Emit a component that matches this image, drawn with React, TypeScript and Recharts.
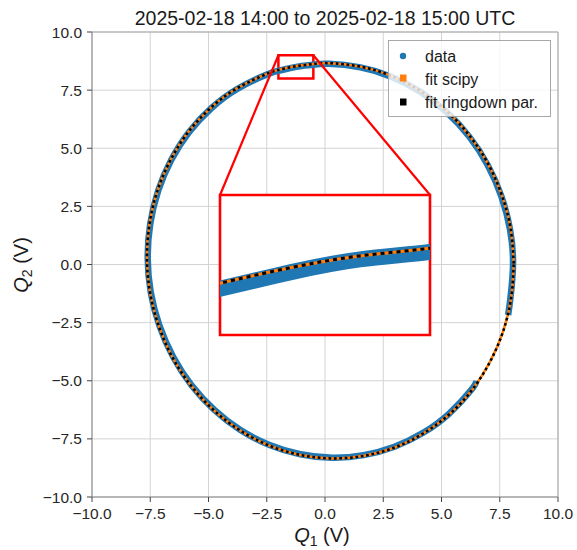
import React from 'react';
import {
  ComposedChart,
  Line,
  XAxis,
  YAxis,
  CartesianGrid,
  ReferenceArea,
  ReferenceLine,
} from 'recharts';

const TITLE = '2025-02-18 14:00 to 2025-02-18 15:00 UTC';
const FONT = '"Liberation Sans", Arial, sans-serif';

const axisTicks = [-10, -7.5, -5, -2.5, 0, 2.5, 5, 7.5, 10];

// zoomed window shown in the inset, and where the inset sits (main axes units)
const zoomQ1 = [-2.0, -0.5];
const zoomQ2 = [8.0, 9.0];
const insetQ1 = [-4.5, 4.5];
const insetQ2 = [-3.0, 3.0];
const insetTicksQ1 = [-2.0, -1.5, -1.0, -0.5];
const insetTicksQ2 = [8.0, 8.25, 8.5, 8.75, 9.0];

// measured data band (centre of the blue ring), gap in the lower right
const dataQ1 = [7.86, 7.96, 8.07, 7.94, 7.57, 6.98, 6.19, 5.21, 4.09, 2.84, 1.52, 0.16, -0.5, -1.0, -1.5, -2.0, -2.52, -3.75, -4.87, -5.83, -6.6, -7.16, -7.5, -7.61, -7.48, -7.11, -6.52, -5.73, -4.75, -3.63, -2.38, -1.06, 0.31, 1.66, 2.98, 4.21, 5.33, 6.29, 6.5];
const dataQ2 = [-2.17, -1.42, 0.04, 1.51, 2.93, 4.28, 5.5, 6.56, 7.43, 8.08, 8.48, 8.63, 8.593, 8.54, 8.447, 8.33, 8.16, 7.56, 6.73, 5.7, 4.49, 3.17, 1.75, 0.28, -1.19, -2.62, -3.97, -5.19, -6.25, -7.12, -7.76, -8.16, -8.31, -8.2, -7.84, -7.24, -6.41, -5.38, -5.0];

// fitted ellipse (scipy and ringdown parameters lie on top of each other)
const fitQ1 = [8.1, 7.97, 7.6, 7.01, 6.21, 5.23, 4.1, 2.85, 1.52, 0.16, -0.5, -1.0, -1.5, -2.0, -2.53, -3.77, -4.89, -5.85, -6.62, -7.19, -7.53, -7.64, -7.51, -7.14, -6.55, -5.75, -4.77, -3.64, -2.39, -1.06, 0.31, 1.67, 2.99, 4.23, 5.35, 6.31, 7.08, 7.65, 7.99, 8.1];
const fitQ2 = [0.04, 1.52, 2.95, 4.31, 5.53, 6.59, 7.46, 8.11, 8.51, 8.66, 8.62, 8.565, 8.48, 8.37, 8.19, 7.58, 6.75, 5.72, 4.51, 3.18, 1.75, 0.28, -1.2, -2.63, -3.99, -5.21, -6.27, -7.14, -7.79, -8.19, -8.34, -8.23, -7.87, -7.26, -6.43, -5.4, -4.19, -2.86, -1.43, 0.04];

const BLUE = '#1f77b4';
const ORANGE = '#ff7f0e';
const RED = '#ff0000';

const fmt = (v: number) => (v < 0 ? '\u2212' : '') + Math.abs(v).toFixed(1);
const toPoints = (xs: number[], ys: number[]) => xs.map((x, i) => ({ x, y: ys[i] }));

const App = () => {
  const dataPts = toPoints(dataQ1, dataQ2);
  const fitPts = toPoints(fitQ1, fitQ2);
  const tickStyle = { fill: '#262626', fontSize: 15.5, fontFamily: FONT };

  return (
    <div style={{ position: 'absolute', left: 0, top: 0, width: 577, height: 550, background: '#fff' }}>
      <ComposedChart width={577} height={550} margin={{ top: 32, right: 19, bottom: 13, left: 0 }}>
        <CartesianGrid stroke="#d3d3d3" strokeWidth={1} />
        <XAxis
          type="number"
          dataKey="x"
          domain={[-10, 10]}
          ticks={axisTicks}
          tickFormatter={fmt}
          allowDataOverflow
          height={40}
          tick={tickStyle}
          tickSize={5}
          tickMargin={6}
          tickLine={{ stroke: '#444' }}
          axisLine={{ stroke: '#a6a6a6' }}
        />
        <YAxis
          type="number"
          domain={[-10, 10]}
          ticks={axisTicks}
          tickFormatter={fmt}
          allowDataOverflow
          width={92}
          tick={tickStyle}
          tickSize={5}
          tickMargin={5}
          tickLine={{ stroke: '#444' }}
          axisLine={{ stroke: '#a6a6a6' }}
        />
        <ReferenceArea x1={-10} x2={10} y1={-10} y2={10} fill="none" stroke="#a6a6a6" strokeWidth={1} />
        <Line data={dataPts} dataKey="y" type="natural" stroke={BLUE} strokeWidth={6.5} strokeLinejoin="round" dot={false} activeDot={false} isAnimationActive={false} />
        <Line data={fitPts} dataKey="y" type="natural" stroke={ORANGE} strokeWidth={2.5} dot={false} activeDot={false} isAnimationActive={false} />
        <Line data={fitPts} dataKey="y" type="natural" stroke="#000" strokeWidth={2.5} strokeDasharray="2.7 2.7" dot={false} activeDot={false} isAnimationActive={false} />
        <ReferenceArea x1={zoomQ1[0]} x2={zoomQ1[1]} y1={zoomQ2[0]} y2={zoomQ2[1]} fill="none" fillOpacity={0} stroke={RED} strokeWidth={2.5} ifOverflow="visible" />
        <ReferenceLine segment={[{ x: zoomQ1[0], y: zoomQ2[1] }, { x: insetQ1[0], y: insetQ2[1] }]} stroke={RED} strokeWidth={2.2} ifOverflow="visible" />
        <ReferenceLine segment={[{ x: zoomQ1[1], y: zoomQ2[1] }, { x: insetQ1[1], y: insetQ2[1] }]} stroke={RED} strokeWidth={2.2} ifOverflow="visible" />
      </ComposedChart>

      <div style={{ position: 'absolute', left: 212, top: 193 }}>
        <ComposedChart width={220} height={150} margin={{ top: 2, right: 2, bottom: 0, left: 0 }}>
          <CartesianGrid stroke="#cccccc" strokeWidth={1} fill="#ffffff" fillOpacity={1} />
          <XAxis
            type="number"
            dataKey="x"
            domain={zoomQ1}
            ticks={insetTicksQ1}
            allowDataOverflow
            height={8}
            tick={false}
            tickSize={4}
            tickLine={{ stroke: '#000' }}
            axisLine={false}
          />
          <YAxis
            type="number"
            domain={zoomQ2}
            ticks={insetTicksQ2}
            allowDataOverflow
            width={8}
            tick={false}
            tickSize={4}
            tickLine={{ stroke: '#000' }}
            axisLine={false}
          />
          <Line data={dataPts} dataKey="y" type="natural" stroke={BLUE} strokeWidth={16} dot={false} activeDot={false} isAnimationActive={false} />
          <Line data={fitPts} dataKey="y" type="natural" stroke={ORANGE} strokeWidth={3} dot={false} activeDot={false} isAnimationActive={false} />
          <Line data={fitPts} dataKey="y" type="natural" stroke="#000" strokeWidth={3} strokeDasharray="4 4" dot={false} activeDot={false} isAnimationActive={false} />
          <ReferenceArea x1={zoomQ1[0]} x2={zoomQ1[1]} y1={zoomQ2[0]} y2={zoomQ2[1]} fill="none" fillOpacity={0} stroke={RED} strokeWidth={2.6} ifOverflow="visible" />
        </ComposedChart>
      </div>

      <svg width={577} height={550} style={{ position: 'absolute', left: 0, top: 0, pointerEvents: 'none' }} fontFamily={FONT}>
        <text x={325} y={25} textAnchor="middle" fontSize={19.5} fill="#1a1a1a">{TITLE}</text>
        <text x={322} y={542} textAnchor="middle" fontSize={20} fill="#1a1a1a">
          <tspan fontStyle="italic">Q</tspan>
          <tspan fontSize={14} dy={3.5}>1</tspan>
          <tspan dy={-3.5}> (V)</tspan>
        </text>
        <text transform="translate(28,265) rotate(-90)" textAnchor="middle" fontSize={20} fill="#1a1a1a">
          <tspan fontStyle="italic">Q</tspan>
          <tspan fontSize={14} dy={3.5}>2</tspan>
          <tspan dy={-3.5}> (V)</tspan>
        </text>

        <rect x={388.5} y={40.5} width={162} height={76} fill="#ffffff" fillOpacity={0.8} stroke="#a8a8a8" strokeWidth={1} />
        <circle cx={403} cy={56} r={3.2} fill={BLUE} />
        <rect x={400} y={74.5} width={6.5} height={7} fill={ORANGE} />
        <rect x={400} y={98.5} width={6.5} height={7} fill="#000" />
        <text x={425} y={61.5} fontSize={16} fill="#1a1a1a">data</text>
        <text x={425} y={84.5} fontSize={16} fill="#1a1a1a">fit scipy</text>
        <text x={425} y={108} fontSize={16} fill="#1a1a1a">fit ringdown par.</text>
      </svg>
    </div>
  );
};

export default App;
